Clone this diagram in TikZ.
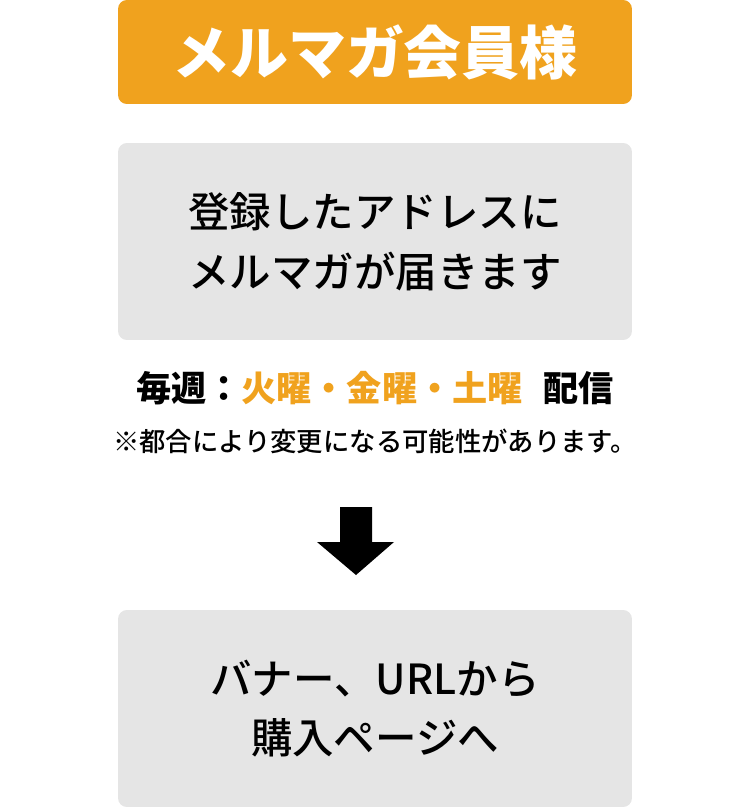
\documentclass[tikz,border=0pt]{standalone}
\usepackage{fontspec}
\newfontfamily\jpfont{Noto Sans CJK JP}
\newfontfamily\jpmedium{Noto Sans CJK JP Medium}
\usepackage{xcolor}
\definecolor{mailorange}{HTML}{F0A21E}
\definecolor{boxgray}{HTML}{E5E5E5}

\begin{document}
\begin{tikzpicture}[x=0.02cm, y=-0.02cm,
  header/.style={fill=mailorange, rounded corners=5pt, minimum width=10.28cm,
    minimum height=2.08cm, text=white, font=\jpfont\bfseries\fontsize{33pt}{38pt}\selectfont},
  panel/.style={fill=boxgray, rounded corners=5pt, minimum width=10.28cm,
    minimum height=3.94cm, align=center, font=\jpmedium\fontsize{23.6pt}{34pt}\selectfont},
  info/.style={font=\jpfont\bfseries\fontsize{20pt}{24pt}\selectfont},
  remark/.style={font=\jpmedium\fontsize{15pt}{18pt}\selectfont}
]
  \useasboundingbox (0,0) rectangle (750,809);

  \node[header] (member) at (375, 52) {メルマガ会員様};
  \node[panel] (mail) at (375, 241.5) {登録したアドレスに\\メルマガが届きます};
  \node[info] (days) at (375, 388) {毎週：\textcolor{mailorange}{火曜・金曜・土曜}\hspace{0.6em}配信};
  \node[remark] (note) at (375, 441) {※都合により変更になる可能性があります。};
  \node[panel] (shop) at (375, 708.5) {バナー、URLから\\購入ページへ};

  % down arrow
  \fill (340,507) -- (372,507) -- (372,542) -- (394,542) -- (356,575)
    -- (317,542) -- (340,542) -- cycle;
\end{tikzpicture}
\end{document}
